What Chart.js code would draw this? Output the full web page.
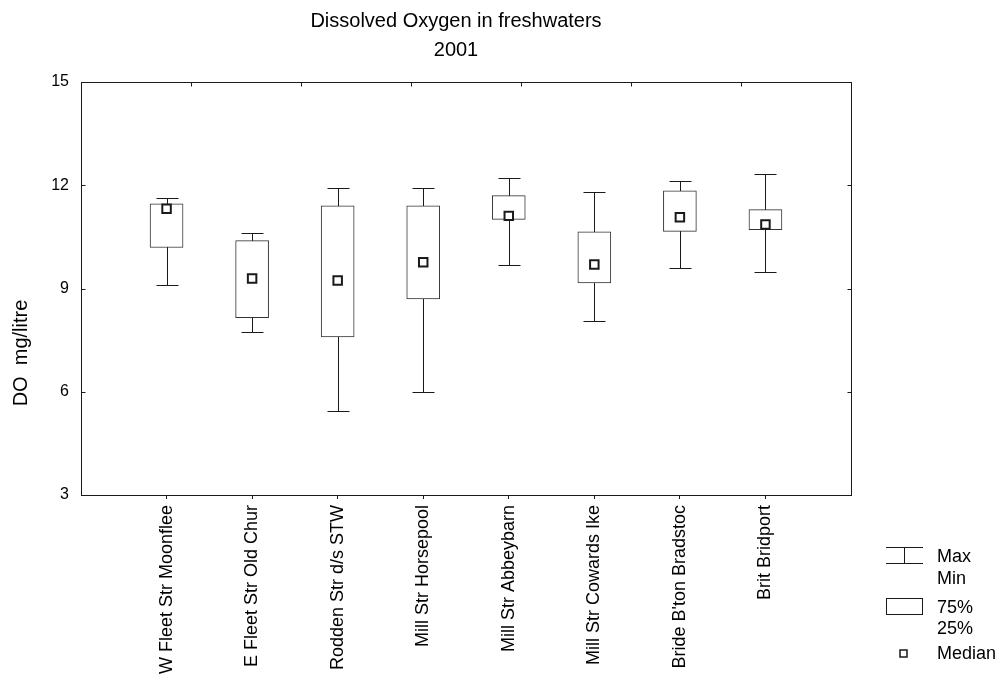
<!DOCTYPE html>
<html>
<head>
<meta charset="utf-8">
<script src="https://cdn.jsdelivr.net/npm/chart.js@4.4.0/dist/chart.umd.min.js"></script>
<style>
html, body { margin: 0; padding: 0; background: #fff; }
</style>
</head>
<body>
<canvas id="box" width="1004" height="677"></canvas>
<script>
// sampling sites and DO (mg/litre) statistics
const sites = ['W Fleet Str Moonflee', 'E Fleet Str Old Chur', 'Rodden Str d/s STW', 'Mill Str Horsepool',
    'Mill Str Abbeybarn', 'Mill Str Cowards Ike', "Bride B'ton Bradstoc", 'Brit Bridport'];
const maxVals    = [11.62, 10.61, 11.91, 11.91, 12.22, 11.81, 12.11, 12.32];
const q3Vals     = [11.46, 10.39, 11.40, 11.40, 11.70, 10.65, 11.84, 11.29];
const medianVals = [11.32,  9.29,  9.23,  9.76, 11.11,  9.70, 11.07, 10.86];
const q1Vals     = [10.19,  8.15,  7.59,  8.70, 11.01,  9.16, 10.66, 10.71];
const minVals    = [ 9.09,  7.74,  5.43,  5.99,  9.69,  8.05,  9.59,  9.47];
const yTicks = [3, 6, 9, 12, 15];

const FONT = '"Liberation Sans", Arial, sans-serif';
const INK = '#1a1a1a';

const whiskers = {
    id: 'whiskers',
    beforeDatasetsDraw(chart) {
        const {ctx, scales: {x, y}} = chart;
        ctx.save();
        ctx.strokeStyle = INK;
        ctx.lineWidth = 1;
        sites.forEach((s, i) => {
            const px = Math.round(x.getPixelForValue(i + 1)) + 0.5;
            const top = Math.round(y.getPixelForValue(maxVals[i])) + 0.5;
            const bot = Math.round(y.getPixelForValue(minVals[i])) + 0.5;
            const cap = 11;
            ctx.beginPath();
            ctx.moveTo(px, top); ctx.lineTo(px, bot);
            ctx.moveTo(px - cap, top); ctx.lineTo(px + cap, top);
            ctx.moveTo(px - cap, bot); ctx.lineTo(px + cap, bot);
            ctx.stroke();
        });
        ctx.restore();
    }
};

const frame = {
    id: 'frame',
    afterDatasetsDraw(chart) {
        const {ctx, chartArea: a, scales: {y}} = chart;
        ctx.save();
        ctx.strokeStyle = INK;
        ctx.lineWidth = 1;
        const l = Math.round(a.left) + 0.5, r = Math.round(a.right) + 0.5;
        const t = Math.round(a.top) + 0.5, b = Math.round(a.bottom) + 0.5;
        ctx.strokeRect(l, t, r - l, b - t);
        ctx.beginPath();
        // inner ticks on top edge
        for (let k = 1; k < 7; k++) {
            const px = Math.round(a.left + k * (a.right - a.left) / 7) + 0.5;
            ctx.moveTo(px, t); ctx.lineTo(px, t + 4);
        }
        // inner ticks left and right
        yTicks.slice(1, -1).forEach(v => {
            const py = Math.round(y.getPixelForValue(v)) + 0.5;
            ctx.moveTo(l, py); ctx.lineTo(l + 4, py);
            ctx.moveTo(r, py); ctx.lineTo(r - 4, py);
        });
        ctx.stroke();
        ctx.restore();
    }
};

const texts = {
    id: 'texts',
    afterDraw(chart) {
        const ctx = chart.ctx;
        ctx.save();
        ctx.fillStyle = '#000';
        ctx.font = '20px ' + FONT;
        ctx.textAlign = 'center';
        ctx.textBaseline = 'alphabetic';
        ctx.fillText('Dissolved Oxygen in freshwaters', 456, 27);
        ctx.fillText('2001', 456, 56);

        ctx.save();
        ctx.font = '20px ' + FONT;
        ctx.translate(21, 353);
        ctx.rotate(-Math.PI / 2);
        ctx.textBaseline = 'middle';
        ctx.fillText('DO  mg/litre', 0, 0);
        ctx.restore();

        // legend
        ctx.strokeStyle = INK;
        ctx.lineWidth = 1;
        ctx.beginPath();
        ctx.moveTo(886, 547.5); ctx.lineTo(923, 547.5);
        ctx.moveTo(886, 563.5); ctx.lineTo(923, 563.5);
        ctx.moveTo(904.5, 547.5); ctx.lineTo(904.5, 563.5);
        ctx.stroke();
        ctx.strokeRect(886.5, 598.5, 36, 16);
        ctx.lineWidth = 1.5;
        ctx.strokeRect(900, 650, 7, 7);

        ctx.font = '18px ' + FONT;
        ctx.textAlign = 'left';
        ctx.textBaseline = 'middle';
        ctx.fillText('Max', 937, 557);
        ctx.fillText('Min', 937, 579);
        ctx.fillText('75%', 937, 608);
        ctx.fillText('25%', 937, 629);
        ctx.fillText('Median', 937, 654);
        ctx.restore();
    }
};

const config = {
    type: 'bar',
    data: {
        datasets: [{
            type: 'scatter',
            label: 'Median',
            data: medianVals.map((v, i) => ({x: i + 1, y: v})),
            pointStyle: 'rect',
            radius: 6,
            borderWidth: 2,
            borderColor: INK,
            backgroundColor: '#fff',
            order: 0
        }, {
            label: '25%-75%',
            data: q1Vals.map((v, i) => ({x: i + 1, y: [v, q3Vals[i]]})),
            backgroundColor: '#fff',
            borderColor: '#333',
            borderWidth: 1,
            borderSkipped: false,
            barThickness: 33,
            order: 1
        }]
    },
    options: {
        responsive: false,
        animation: false,
        devicePixelRatio: 1,
        layout: {padding: {left: 0, top: 82, right: 153, bottom: 0}},
        plugins: {
            legend: {display: false},
            tooltip: {enabled: false}
        },
        scales: {
            x: {
                type: 'linear',
                min: 0,
                max: 9,
                offset: false,
                afterFit(scale) { scale.height = 182; },
                afterBuildTicks(scale) {
                    scale.ticks = sites.map((s, i) => ({value: i + 1}));
                },
                border: {display: false},
                grid: {
                    offset: false,
                    drawOnChartArea: false,
                    drawTicks: true,
                    tickLength: 4,
                    color: INK
                },
                ticks: {
                    autoSkip: false,
                    minRotation: 90,
                    maxRotation: 90,
                    padding: 6,
                    color: '#000',
                    font: {family: FONT, size: 18},
                    callback: v => sites[v - 1] || ''
                }
            },
            y: {
                min: 3,
                max: 15,
                afterFit(scale) { scale.width = 81; },
                afterBuildTicks(scale) {
                    scale.ticks = yTicks.map(v => ({value: v}));
                },
                border: {display: false},
                grid: {display: false, drawTicks: false},
                ticks: {
                    padding: 12,
                    color: '#000',
                    font: {family: FONT, size: 16}
                }
            }
        }
    },
    plugins: [whiskers, frame, texts]
};

new Chart(document.getElementById('box').getContext('2d'), config);
</script>
</body>
</html>
